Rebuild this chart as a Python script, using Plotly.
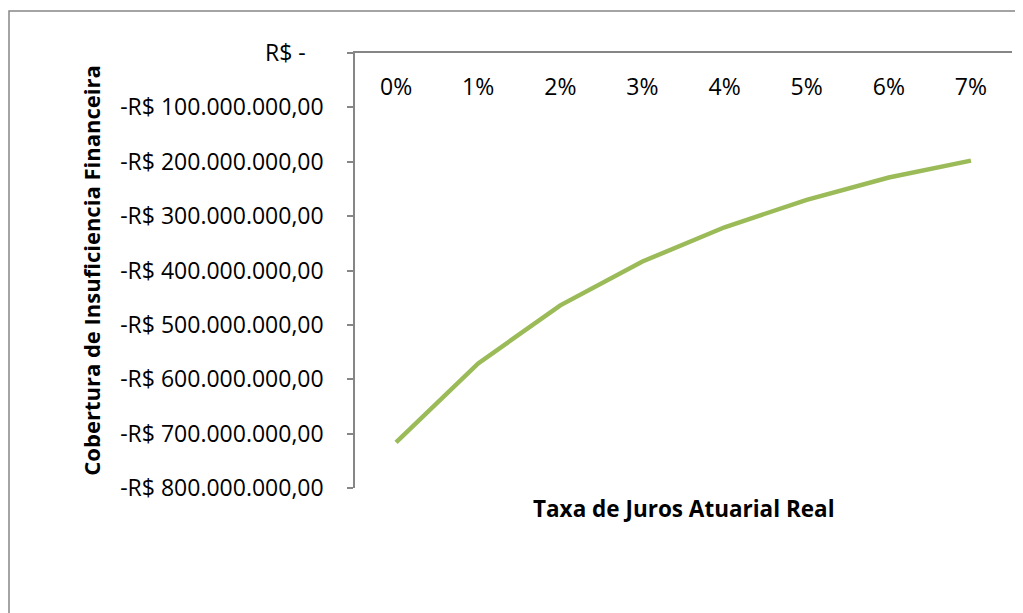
import plotly.graph_objects as go

categories = ["0%", "1%", "2%", "3%", "4%", "5%", "6%", "7%"]
values = [-716_000_000, -571_000_000, -464_000_000, -383_500_000,
          -320_500_000, -270_000_000, -229_000_000, -198_000_000]
y_tickvals = [0, -100_000_000, -200_000_000, -300_000_000, -400_000_000,
              -500_000_000, -600_000_000, -700_000_000, -800_000_000]
y_ticktext = ["R$ -\u00a0\u00a0\u00a0", "-R$ 100.000.000,00", "-R$ 200.000.000,00",
              "-R$ 300.000.000,00", "-R$ 400.000.000,00", "-R$ 500.000.000,00",
              "-R$ 600.000.000,00", "-R$ 700.000.000,00", "-R$ 800.000.000,00"]

FONT = "Open Sans"
AXIS = "#868686"
FS = 23

# plot area in figure pixels
L, R, T, B = 347, 1004, 45, 480
W, H = R - L, B - T
xr = [-0.5, len(categories) - 0.5]
xt = list(range(len(categories)))

fig = go.Figure()
fig.add_trace(go.Scatter(
    x=xt, y=values, mode="lines",
    line=dict(color="#9BBB59", width=4.5), showlegend=False, hoverinfo="skip"))
# invisible companion trace so the category-label axis (x2) is rendered
fig.add_trace(go.Scatter(
    x=xt, y=values, mode="lines", xaxis="x2", opacity=0,
    line=dict(color="#9BBB59", width=0), showlegend=False, hoverinfo="skip"))

fig.update_layout(
    width=1023, height=613,
    margin=dict(l=L, r=1023 - R, t=T, b=613 - B),
    paper_bgcolor="white", plot_bgcolor="white",
    font=dict(family=FONT, size=FS, color="black"),
    xaxis=dict(
        range=xr, tickvals=xt, showticklabels=False,
        side="top", ticks="",
        showline=True, linecolor=AXIS, linewidth=1.5,
        showgrid=False, zeroline=False,
    ),
    xaxis2=dict(
        range=xr, tickvals=xt, ticktext=categories,
        overlaying="x", anchor="free", position=(B - 63) / H, side="bottom",
        ticks="", showline=False, showgrid=False, zeroline=False,
        tickfont=dict(family=FONT, size=FS),
    ),
    yaxis=dict(
        range=[-800_000_000, 0],
        tickvals=y_tickvals, ticktext=y_ticktext,
        ticks="outside", ticklen=6, tickcolor=AXIS, tickwidth=1.5,
        showline=True, linecolor=AXIS, linewidth=1.5,
        showgrid=False, zeroline=False,
        ticklabelstandoff=19,
        tickfont=dict(family=FONT, size=FS),
        title=dict(text="<b>Cobertura de Insuficiencia Financeira</b>",
                   font=dict(family=FONT, size=22), standoff=14),
    ),
    shapes=[dict(type="rect", xref="paper", yref="paper",
                 x0=(1 - L) / W, x1=(1013 - L) / W,
                 y0=-0.6, y1=(B - 3) / H,
                 line=dict(color=AXIS, width=1.5), fillcolor="rgba(0,0,0,0)",
                 layer="below")],
    annotations=[dict(text="<b>Taxa de Juros Atuarial Real</b>",
                      xref="paper", yref="paper", x=0.5, y=-(500 - B) / H,
                      xanchor="center", yanchor="middle", showarrow=False,
                      font=dict(family=FONT, size=22.5))],
)

fig.write_html("out.html")
